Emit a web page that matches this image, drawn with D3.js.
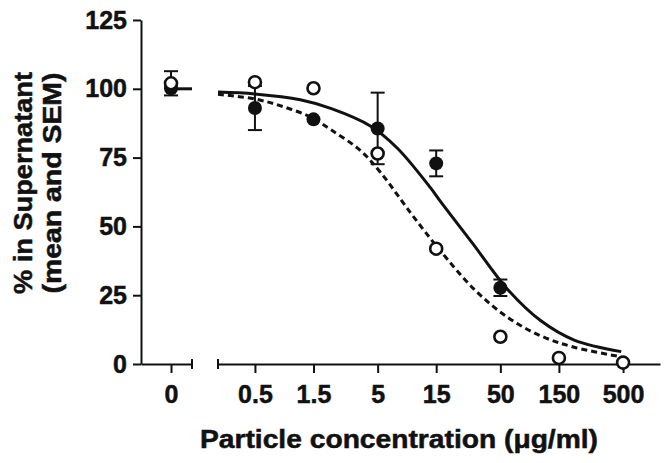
<!DOCTYPE html>
<html>
<head>
<meta charset="utf-8">
<script src="https://cdn.jsdelivr.net/npm/d3@7"></script>
<style>
  html, body { margin: 0; padding: 0; background: #fff; }
  svg { display: block; }
  text { font-family: "Liberation Sans", Arial, Helvetica, sans-serif; font-weight: bold; fill: #111; stroke: #111; stroke-width: 0.5px; }
</style>
</head>
<body>
<script>
// ---- Data ----
const concentrations = [0.5, 1.5, 5, 15, 50, 150, 500];
const xTickLabels = ["0.5", "1.5", "5", "15", "50", "150", "500"];
const yTicks = [0, 25, 50, 75, 100, 125];

// open circles
const openControl = 102;
const openControlSEM = 4.4;
const openMean = [102.4, 100.2, 76.5, 41.9, 9.9, 2.2, 0.5];

// filled circles
const filledControl = 100.2;
const filledMean = [93, 88.9, 85.6, 72.9, 27.7, null, null];
const filledSEM  = [8, 0, 13, 4.7, 3, null, null];

// control-level line (value at concentration 0)
const controlLine = 100;

// fitted curve read-offs (solid = filled series, dashed = open series)
const solidConc  = [0.25, 0.5, 1.17, 2.1, 4.36, 7.21, 13.5, 16.3, 29.5, 57.1, 107, 200, 483];
const solidVal   = [98.8, 98.1, 96, 92.8, 86.5, 78.5, 64, 59, 44, 27.2, 15.7, 8.7, 4.5];
const dashedConc = [0.25, 0.5, 0.85, 1.41, 2.1, 3.61, 5.26, 9.25, 13.5, 16.3, 30.5, 57.1, 107, 200, 483];
const dashedVal  = [98, 96.3, 93.5, 89.8, 85, 77.6, 69.7, 55, 45.5, 41, 27.2, 17, 10.2, 6.1, 2.6];

// ---- Layout ----
const W = 666, H = 463;
const svg = d3.select("body").append("svg").attr("width", W).attr("height", H);

const y = d3.scaleLinear().domain([0, 125]).range([364, 20]);
const x0 = d3.scaleLinear().domain([-1, 0.7]).range([141, 192]);
const x = d3.scaleLog().domain([0.25, 1000]).range([218, 660]);

const FS = 25;

// Y axis
const yAxis = svg.append("g").attr("transform", "translate(141,0)")
  .call(d3.axisLeft(y).tickValues(yTicks).tickSize(8).tickPadding(6).tickSizeOuter(0));
// X axis segment 1 (control)
const xAxis0 = svg.append("g").attr("transform", "translate(0,364)")
  .call(d3.axisBottom(x0).tickValues([0]).tickFormat(() => "0").tickSize(9).tickPadding(12).tickSizeOuter(0));
// X axis segment 2 (log)
const xAxis = svg.append("g").attr("transform", "translate(0,364)")
  .call(d3.axisBottom(x).tickValues(concentrations).tickFormat((d, i) => xTickLabels[i]).tickSize(9).tickPadding(12).tickSizeOuter(0));

[yAxis, xAxis0, xAxis].forEach(g => {
  g.selectAll("path.domain").attr("stroke", "#111").attr("stroke-width", 2);
  g.selectAll(".tick line").attr("stroke", "#111").attr("stroke-width", 2);
  g.selectAll(".tick text").attr("font-size", FS).attr("font-family", null).attr("fill", "#111");
});

// break caps
svg.append("line").attr("x1", x0(0.7)).attr("x2", x0(0.7)).attr("y1", 359).attr("y2", 369)
  .attr("stroke", "#111").attr("stroke-width", 2);
svg.append("line").attr("x1", x(0.25)).attr("x2", x(0.25)).attr("y1", 359).attr("y2", 369)
  .attr("stroke", "#111").attr("stroke-width", 2);

// Axis titles
svg.append("text").attr("x", 399).attr("y", 448).attr("text-anchor", "middle")
  .attr("font-size", FS).attr("textLength", 398).attr("lengthAdjust", "spacingAndGlyphs")
  .text("Particle concentration (μg/ml)");
svg.append("text").attr("transform", "translate(32,183) rotate(-90)").attr("text-anchor", "middle")
  .attr("font-size", FS).attr("textLength", 222).attr("lengthAdjust", "spacingAndGlyphs")
  .text("% in Supernatant");
svg.append("text").attr("transform", "translate(61,183) rotate(-90)").attr("text-anchor", "middle")
  .attr("font-size", FS).attr("textLength", 221).attr("lengthAdjust", "spacingAndGlyphs")
  .text("(mean and SEM)");

// Curves
const line = d3.line().x(d => x(d[0])).y(d => y(d[1])).curve(d3.curveCatmullRom.alpha(0.5));
svg.append("path").datum(solidConc.map((c, i) => [c, solidVal[i]]))
  .attr("d", line).attr("fill", "none").attr("stroke", "#111").attr("stroke-width", 3);
svg.append("path").datum(dashedConc.map((c, i) => [c, dashedVal[i]]))
  .attr("d", line).attr("fill", "none").attr("stroke", "#111").attr("stroke-width", 3)
  .attr("stroke-dasharray", "6,4");

// control line
svg.append("line").attr("x1", x0(0)).attr("x2", x0(0.7)).attr("y1", y(controlLine)).attr("y2", y(controlLine))
  .attr("stroke", "#111").attr("stroke-width", 3);

function errorBar(cx, m, s) {
  if (!s) return;
  const g = svg.append("g").attr("stroke", "#111").attr("stroke-width", 2);
  g.append("line").attr("x1", cx).attr("x2", cx).attr("y1", y(m - s)).attr("y2", y(m + s));
  g.append("line").attr("x1", cx - 7).attr("x2", cx + 7).attr("y1", y(m - s)).attr("y2", y(m - s));
  g.append("line").attr("x1", cx - 7).attr("x2", cx + 7).attr("y1", y(m + s)).attr("y2", y(m + s));
}

// filled series
concentrations.forEach((c, i) => { if (filledMean[i] != null) errorBar(x(c), filledMean[i], filledSEM[i]); });
svg.append("circle").attr("cx", x0(0)).attr("cy", y(filledControl)).attr("r", 7).attr("fill", "#111");
concentrations.forEach((c, i) => {
  if (filledMean[i] == null) return;
  svg.append("circle").attr("cx", x(c)).attr("cy", y(filledMean[i])).attr("r", 7).attr("fill", "#111");
});

// open series
errorBar(x0(0), openControl, openControlSEM);
svg.append("circle").attr("cx", x0(0)).attr("cy", y(openControl)).attr("r", 6)
  .attr("fill", "#fff").attr("stroke", "#111").attr("stroke-width", 2.6);
concentrations.forEach((c, i) => {
  svg.append("circle").attr("cx", x(c)).attr("cy", y(openMean[i])).attr("r", 6)
    .attr("fill", "#fff").attr("stroke", "#111").attr("stroke-width", 2.6);
});
</script>
</body>
</html>
